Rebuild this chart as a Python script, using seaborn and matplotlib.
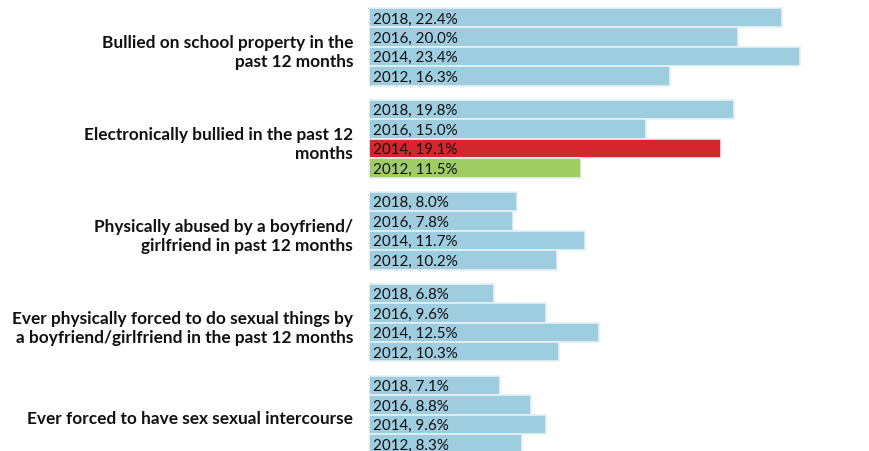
import numpy as np
import pandas as pd
import matplotlib
matplotlib.use("Agg")
from matplotlib import pyplot as plt
import seaborn as sns

# data
categories = [
    "Bullied on school property in the\npast 12 months",
    "Electronically bullied in the past 12\nmonths",
    "Physically abused by a boyfriend/\ngirlfriend in past 12 months",
    "Ever physically forced to do sexual things by\na boyfriend/girlfriend in the past 12 months",
    "Ever forced to have sex sexual intercourse",
]
years = ["2018", "2016", "2014", "2012"]
bullied_school = [22.4, 20.0, 23.4, 16.3]
bullied_online = [19.8, 15.0, 19.1, 11.5]
abused_partner = [8.0, 7.8, 11.7, 10.2]
forced_sexual = [6.8, 9.6, 12.5, 10.3]
forced_sex = [7.1, 8.8, 9.6, 8.3]
series = [bullied_school, bullied_online, abused_partner, forced_sexual, forced_sex]

# highlighted bars (group index, year)
highlights = {(1, "2014"): "#d4262c", (1, "2012"): "#9fcd63"}
base_color = "#9fcde0"

group_step = 4.742

rows = []
for g, vals in enumerate(series):
    for i, (yr, v) in enumerate(zip(years, vals)):
        rows.append({
            "pos": g * group_step + i,
            "value": v,
            "label": f"{yr}, {v:.1f}%",
            "color": highlights.get((g, yr), base_color),
        })
df = pd.DataFrame(rows)

sns.set_style("white")
plt.rcParams["font.family"] = ["Lato", "DejaVu Sans"]

fig = plt.figure(figsize=(8.7, 4.52), dpi=100)
ax = fig.add_axes([369 / 870, 0, 1 - 369 / 870, 1])

palette = {p: c for p, c in zip(df["pos"], df["color"])}
sns.barplot(data=df, x="value", y="pos", hue="pos", palette=palette,
            orient="h", native_scale=True, dodge=False, width=1.0,
            saturation=1, edgecolor="#e8f0f4", linewidth=1.2, legend=False,
            ax=ax)

# labels inside bars
for p, lab in zip(df["pos"], df["label"]):
    ax.text(0.2, p + 0.04, lab, va="center", ha="left", fontsize=10.9,
            color="#111111")

ax.set_xlim(0, 27.17)
ax.set_ylim(22.34, -0.96)

centers = [g * group_step + 1.6 for g in range(len(categories))]
ax.set_yticks(centers)
ax.set_yticklabels(categories, fontsize=12.4, fontweight="bold", color="#111111",
                   linespacing=1.2)
ax.tick_params(axis="y", length=0, pad=11.5)
ax.set_xticks([])
ax.set_xlabel("")
ax.set_ylabel("")
sns.despine(ax=ax, left=True, bottom=True)

fig.savefig("out.png", dpi=100)
